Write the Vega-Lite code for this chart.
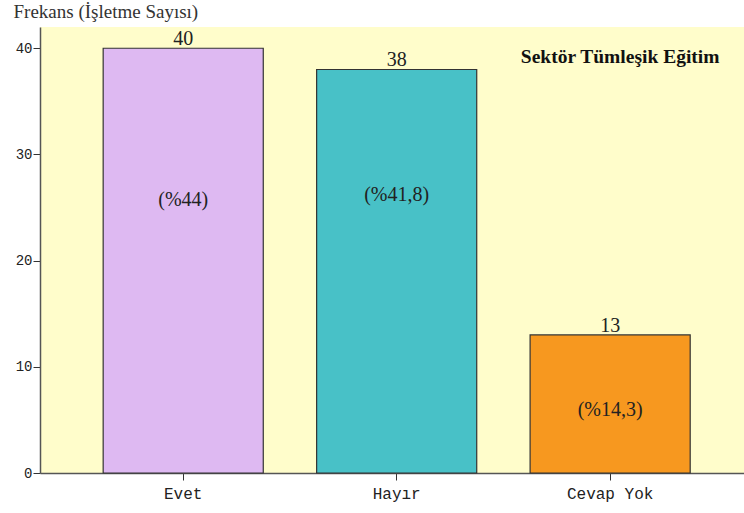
{
  "$schema": "https://vega.github.io/schema/vega-lite/v6.json",
  "width": 704,
  "height": 446,
  "autosize": {"type": "none"},
  "padding": {"left": 40, "top": 27, "right": 0, "bottom": 40},
  "background": "white",
  "config": {"view": {"fill": "#FFFDCB", "stroke": null}},
  "data": {
    "values": [
      {"yanit": "Evet", "frekans": 40, "yuzde": "(%44)", "etiket_y": 25.7, "renk": "#DEB9F2"},
      {"yanit": "Hayır", "frekans": 38, "yuzde": "(%41,8)", "etiket_y": 26.2, "renk": "#48C1C7"},
      {"yanit": "Cevap Yok", "frekans": 13, "yuzde": "(%14,3)", "etiket_y": 5.9, "renk": "#F7981F"}
    ]
  },
  "encoding": {
    "x": {
      "field": "yanit", "type": "nominal", "sort": null,
      "scale": {"paddingInner": 0.25, "paddingOuter": 0.274, "align": 0.54},
      "axis": {
        "title": null, "labelAngle": 0, "labelFont": "Liberation Mono", "labelFontSize": 16,
        "labelColor": "#222", "domainColor": "#555", "domainWidth": 1.5, "tickColor": "#333",
        "tickSize": 7, "labelPadding": 5
      }
    },
    "y": {
      "type": "quantitative",
      "scale": {"domain": [0, 42], "nice": false},
      "axis": {
        "values": [0, 10, 20, 30, 40], "grid": false,
        "labelFont": "Liberation Mono", "labelFontSize": 14, "labelColor": "#222",
        "domainColor": "#555", "domainWidth": 1.5, "tickColor": "#333", "tickSize": 7, "labelPadding": 1,
        "title": "Frekans (İşletme Sayısı)", "titleAngle": 0, "titleAnchor": "start",
        "titleFont": "Liberation Serif", "titleFontSize": 19, "titleFontWeight": "normal", "titleColor": "#333",
        "titleX": -27, "titleY": -6, "titleAlign": "left", "titleBaseline": "bottom"
      }
    }
  },
  "layer": [
    {
      "mark": {"type": "bar", "stroke": "#333", "strokeWidth": 1.2},
      "encoding": {
        "y": {"field": "frekans"},
        "color": {"field": "renk", "type": "nominal", "scale": null, "legend": null}
      }
    },
    {
      "mark": {"type": "text", "font": "Liberation Serif", "fontSize": 20, "baseline": "alphabetic", "dy": -3, "color": "#222"},
      "encoding": {"y": {"field": "frekans"}, "text": {"field": "frekans"}}
    },
    {
      "mark": {"type": "text", "font": "Liberation Serif", "fontSize": 20, "baseline": "middle", "color": "#222"},
      "encoding": {"y": {"field": "etiket_y"}, "text": {"field": "yuzde"}}
    },
    {
      "data": {"values": [{"baslik": "Sektör Tümleşik Eğitim", "konum": "Cevap Yok", "yukseklik": 39.2}]},
      "mark": {"type": "text", "font": "Liberation Serif", "fontSize": 19.5, "fontWeight": "bold", "baseline": "middle", "dx": 10, "color": "#111"},
      "encoding": {
        "x": {"field": "konum", "type": "nominal"},
        "y": {"field": "yukseklik", "type": "quantitative"},
        "text": {"field": "baslik"}
      }
    }
  ]
}
